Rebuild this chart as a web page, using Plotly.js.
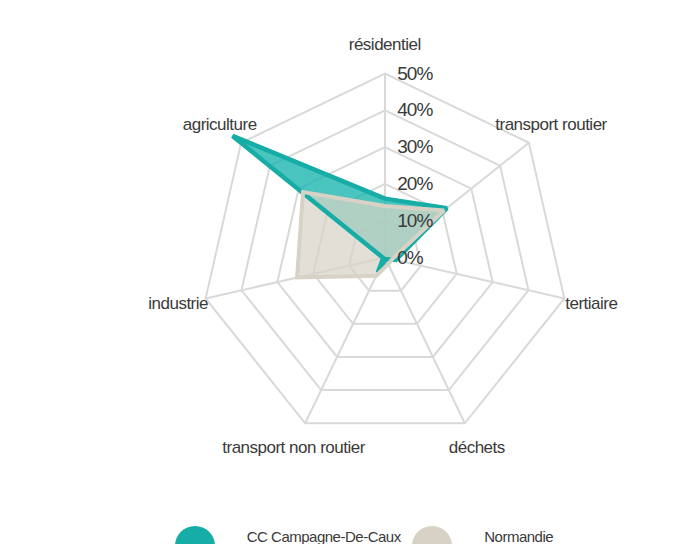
<!DOCTYPE html>
<html>
<head>
<meta charset="utf-8">
<script src="https://cdn.plot.ly/plotly-3.0.1.min.js"></script>
<style>
html,body{margin:0;padding:0;background:#fff;}
#chart{width:682px;height:544px;}
#chart svg text{letter-spacing:-0.5px;}
#chart g.radial-axis text{letter-spacing:-1px;}
</style>
</head>
<body>
<div id="chart"></div>
<script>
var categories = ['résidentiel', 'transport routier', 'tertiaire', 'déchets', 'transport non routier', 'industrie', 'agriculture'];
var seriesNames = ['CC Campagne-De-Caux', 'Normandie'];
var ccValues = [16, 21.5, 3, 0.5, 4.5, 0.5, 53];
var normandieValues = [14, 20.5, 2, 2, 5.5, 24.5, 28.5];
var tickValues = [0, 10, 20, 30, 40, 50];
var tickLabels = ['0%', '10%', '20%', '30%', '40%', '50%'];

var FONT = '"Liberation Sans", Arial, sans-serif';
var TEXT = '#3a3a3a';
var TEAL = '#17ada7';
var BEIGE = '#d7d2c5';
var GRID = '#d9d9d9';

function closed(arr) { return arr.concat([arr[0]]); }
var theta = closed(categories);

// spokes from centre to the outer ring (50%) for each category
var spokeR = [], spokeT = [];
categories.forEach(function (c) {
  spokeR.push(0, tickValues[tickValues.length - 1], null);
  spokeT.push(c, c, null);
});

var traces = [
  { type: 'scatterpolar', r: spokeR, theta: spokeT, mode: 'lines', connectgaps: false,
    line: {width: 2, color: GRID}, showlegend: false, hoverinfo: 'skip' },
  { type: 'scatterpolar', r: closed(ccValues), theta: theta, mode: 'lines', fill: 'toself',
    fillcolor: 'rgba(23,180,172,0.78)', line: {width: 0, color: 'rgba(0,0,0,0)'},
    name: seriesNames[0], showlegend: false, hoverinfo: 'skip' },
  { type: 'scatterpolar', r: closed(normandieValues), theta: theta, mode: 'lines', fill: 'toself',
    fillcolor: 'rgba(215,212,199,0.73)', line: {width: 0, color: 'rgba(0,0,0,0)'},
    name: seriesNames[1], showlegend: false, hoverinfo: 'skip' },
  { type: 'scatterpolar', r: closed(ccValues), theta: theta, mode: 'lines',
    line: {width: 4.5, color: TEAL}, name: seriesNames[0], showlegend: false },
  { type: 'scatterpolar', r: closed(normandieValues), theta: theta, mode: 'lines',
    line: {width: 4, color: BEIGE}, name: seriesNames[1], showlegend: false }
];

var W = 682, H = 544;
var cx = 385, cy = 257.5, R50 = 184;       // pixel radius of the 50% ring
var rMax = 54;
var Rmax = R50 * rMax / 50;

// category labels placed just outside the outer ring
var annotations = categories.map(function (c, i) {
  var a = (90 - i * 360 / categories.length) * Math.PI / 180;
  var L = R50 + 28;
  var x = cx + L * Math.cos(a), y = cy - L * Math.sin(a) - 1;
  return {xref: 'paper', yref: 'paper', x: x / W, y: (H - y) / H, xanchor: 'center', yanchor: 'middle',
          text: c, showarrow: false, font: {family: FONT, size: 17, color: TEXT}};
});
annotations.push(
  {xref: 'paper', yref: 'paper', x: 240 / W, y: (H - 536) / H, xanchor: 'left', yanchor: 'middle',
   text: seriesNames[0], showarrow: false, font: {family: FONT, size: 15, color: TEXT}},
  {xref: 'paper', yref: 'paper', x: 480 / W, y: (H - 536) / H, xanchor: 'left', yanchor: 'middle',
   text: seriesNames[1], showarrow: false, font: {family: FONT, size: 15, color: TEXT}}
);

var layout = {
  width: W, height: H,
  margin: {l: 0, r: 0, t: 0, b: 0},
  paper_bgcolor: '#ffffff',
  showlegend: false,
  font: {family: FONT, color: TEXT},
  polar: {
    domain: {x: [(cx - Rmax) / W, (cx + Rmax) / W], y: [(H - cy - Rmax) / H, (H - cy + Rmax) / H]},
    gridshape: 'linear',
    bgcolor: 'rgba(0,0,0,0)',
    radialaxis: {
      range: [0, rMax], tickvals: tickValues, ticktext: tickLabels,
      angle: 90, tickangle: 90, side: 'clockwise',
      showline: false, ticks: 'outside', ticklen: 8, tickcolor: 'rgba(0,0,0,0)',
      gridcolor: GRID, gridwidth: 2,
      tickfont: {family: FONT, size: 19, color: TEXT}
    },
    angularaxis: {
      type: 'category', categoryarray: categories, categoryorder: 'array',
      direction: 'clockwise', rotation: 90,
      showline: false, showgrid: false, showticklabels: false, ticks: ''
    }
  },
  shapes: [
    {type: 'circle', xref: 'paper', yref: 'paper', x0: 175 / W, x1: 215 / W, y0: (H - 566) / H, y1: (H - 526) / H,
     fillcolor: TEAL, line: {width: 0}},
    {type: 'circle', xref: 'paper', yref: 'paper', x0: 412 / W, x1: 452 / W, y0: (H - 566) / H, y1: (H - 526) / H,
     fillcolor: BEIGE, line: {width: 0}}
  ],
  annotations: annotations
};

Plotly.newPlot('chart', traces, layout, {displayModeBar: false, staticPlot: true});
</script>
</body>
</html>
